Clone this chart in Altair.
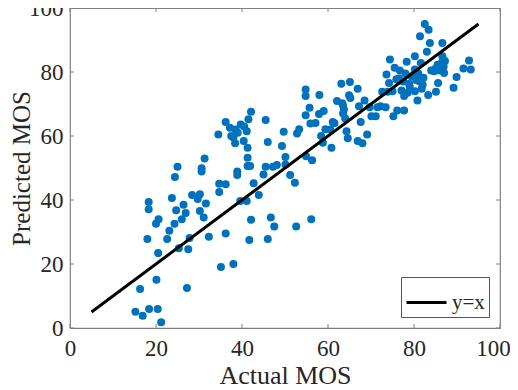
import altair as alt
import pandas as pd

actual = [15.2, 16.9, 18.4, 20.4, 21.2, 16.3, 20.1, 27.2, 20.5, 18.0, 18.3, 18.3, 20.0, 20.6, 22.6,
          23.1, 23.7, 24.4, 25.0, 24.3, 24.7, 25.3, 26.0, 26.4, 26.9, 27.5, 27.8, 28.4, 29.7, 30.2,
          30.6, 30.6, 30.2, 31.1, 31.6, 31.3, 32.3, 34.7, 34.7, 36.2, 36.2, 35.1, 38.0, 34.5, 36.2,
          37.2, 38.0, 38.4, 38.9, 38.9, 39.7, 39.6, 41.1, 40.4, 41.1, 41.3, 41.3, 41.5, 42.1, 41.3,
          41.9, 42.1, 41.7, 42.7, 43.9, 45.5, 46.0, 45.5, 45.0, 46.7, 46.0, 47.5, 47.2, 48.1, 49.3,
          49.7, 50.1, 50.1, 51.2, 52.3, 52.6, 52.8, 53.3, 54.8, 54.8, 54.8, 54.9, 55.7, 55.9, 56.3,
          56.1, 57.1, 57.9, 58.0, 58.4, 58.8, 59.0, 59.4, 60.8, 61.1, 62.1, 63.1, 63.3, 63.5, 63.7,
          64.3, 64.6, 64.9, 65.1, 65.2, 66.9, 66.9, 67.2, 67.6, 68.0, 68.5, 69.1, 69.7, 70.1, 71.1,
          71.5, 72.2, 72.6, 73.4, 73.6, 73.9, 74.4, 74.2, 75.2, 75.5, 75.9, 76.1, 76.7, 77.1, 77.7,
          77.7, 78.3, 78.9, 79.4, 80.2, 80.2, 80.2, 80.8, 81.2, 81.4, 81.6, 81.8, 82.2, 82.5, 83.0,
          83.4, 83.3, 83.7, 84.7, 85.1, 85.5, 85.6, 86.6, 86.6, 86.9, 87.0, 87.2, 89.2, 89.9, 91.5,
          92.8, 93.2, 76.5, 77.5, 78.0, 79.0, 80.5, 81.0, 82.0, 75.0, 78.5, 86.0, 86.5, 85.0, 84.0,
          63.5, 64.0, 60.5, 61.5, 39.0, 38.5, 40.5, 37.5]
predicted = [5.1, 3.8, 5.9, 5.9, 1.8, 12.2, 15.1, 12.5, 23.4, 27.8, 39.4, 37.1, 32.6, 34.0, 27.8,
             30.4, 40.6, 47.2, 50.4, 32.6, 36.8, 24.9, 34.0, 38.5, 35.9, 24.6, 28.1, 41.6, 40.3, 41.8,
             48.9, 49.9, 36.6, 34.5, 38.9, 53.0, 28.5, 42.5, 45.1, 44.9, 29.5, 19.1, 20.0, 60.5, 64.4,
             62.6, 59.5, 57.7, 48.9, 47.8, 63.6, 39.7, 39.7, 58.4, 61.5, 56.3, 53.2, 65.2, 67.6, 50.6,
             50.6, 33.8, 27.5, 45.2, 41.6, 65.0, 58.1, 50.4, 48.0, 34.5, 27.8, 31.7, 50.4, 50.9, 56.9,
             61.3, 53.4, 51.1, 47.8, 45.4, 31.7, 60.8, 62.1, 66.5, 72.5, 74.5, 53.7, 68.8, 63.9, 52.4,
             34.0, 64.1, 66.9, 72.8, 60.0, 57.9, 67.8, 62.1, 56.3, 64.4, 70.9, 76.3, 70.2, 67.0, 68.3,
             61.5, 59.3, 72.7, 76.9, 71.9, 74.8, 58.4, 69.3, 64.4, 57.7, 71.1, 60.5, 69.0, 66.2, 66.2,
             69.0, 69.3, 73.8, 69.0, 79.2, 73.8, 83.9, 76.6, 66.2, 81.3, 77.7, 68.0, 80.5, 74.2, 72.5,
             68.0, 83.2, 76.3, 78.7, 84.9, 80.8, 74.0, 71.1, 77.1, 91.2, 82.8, 74.8, 78.2, 95.0, 86.3,
             93.2, 72.8, 89.1, 80.2, 73.8, 82.3, 76.6, 89.1, 84.9, 81.7, 79.7, 83.4, 75.1, 78.4, 81.1,
             83.6, 80.8, 78.0, 77.0, 79.5, 75.5, 77.5, 79.5, 76.0, 74.0, 73.5, 80.5, 83.0, 81.0, 80.5,
             69.5, 65.5, 62.0, 64.0, 61.0, 62.0, 63.0, 60.0]

line_x = [5, 95]
line_y = [5, 95]
line_name = ["y=x", "y=x"]
tick_values = [0, 20, 40, 60, 80, 100]

W, H = 430, 320
FONT = "Liberation Serif"

pts = pd.DataFrame({"actual": actual, "predicted": predicted})
ref = pd.DataFrame({"actual": line_x, "predicted": line_y, "series": line_name})
ticks = pd.DataFrame({"t": tick_values})

xs = alt.Scale(domain=[0, 100], nice=False, zero=False)
ys = alt.Scale(domain=[0, 100], nice=False, zero=False)

common = dict(values=tick_values, ticks=False, tickSize=0, domain=False, grid=False,
              labelFlush=False, labelOverlap=False, labelBound=False,
              labelFont=FONT, labelFontSize=23, labelColor="#262626",
              titleFont=FONT, titleColor="#262626", titleFontWeight="normal")
x_axis = alt.Axis(labelPadding=9, title="Actual MOS", titlePadding=2, titleFontSize=26,
                  labelOffset={"condition": {"test": "datum.value === 100", "value": -7}, "value": 0},
                  **common)
y_axis = alt.Axis(labelPadding=7, title="Predicted MOS", titleFontSize=25,
                  titleX=-61, titleY=H / 2, titleBaseline="top", titleAngle=270,
                  titleAlign="center", **common)

scatter = alt.Chart(pts).mark_circle(size=64, color="#0072BD", opacity=1).encode(
    x=alt.X("actual:Q", scale=xs, axis=x_axis),
    y=alt.Y("predicted:Q", scale=ys, axis=y_axis),
)

line = alt.Chart(ref).mark_line(strokeWidth=3).encode(
    x=alt.X("actual:Q", scale=xs, axis=x_axis),
    y=alt.Y("predicted:Q", scale=ys, axis=y_axis),
    color=alt.Color("series:N", scale=alt.Scale(domain=["y=x"], range=["black"]),
                    legend=alt.Legend(title=None, orient="bottom-right", offset=11,
                                      symbolType="stroke", symbolSize=1600, symbolStrokeWidth=3,
                                      symbolStrokeColor="black",
                                      labelFont=FONT, labelFontSize=21, labelColor="#262626",
                                      labelOffset=4, padding=4, fillColor="white",
                                      strokeColor="#555555")),
)

tick_color = "#808080"
bottom_ticks = alt.Chart(ticks).mark_rule(color=tick_color, strokeWidth=1).encode(
    x=alt.X("t:Q", scale=xs, axis=x_axis), y=alt.value(H), y2=alt.value(H - 4))
top_ticks = alt.Chart(ticks).mark_rule(color=tick_color, strokeWidth=1).encode(
    x=alt.X("t:Q", scale=xs, axis=x_axis), y=alt.value(0), y2=alt.value(4))
left_ticks = alt.Chart(ticks).mark_rule(color=tick_color, strokeWidth=1).encode(
    y=alt.Y("t:Q", scale=ys, axis=y_axis), x=alt.value(0), x2=alt.value(4))
right_ticks = alt.Chart(ticks).mark_rule(color=tick_color, strokeWidth=1).encode(
    y=alt.Y("t:Q", scale=ys, axis=y_axis), x=alt.value(W), x2=alt.value(W - 4))

chart = alt.layer(scatter, bottom_ticks, top_ticks, left_ticks, right_ticks, line).properties(
    width=W, height=H,
    autosize=alt.AutoSizeParams(type="none"),
    padding={"left": 62, "top": 0, "right": 10, "bottom": 62},
    background="white",
).configure_view(
    stroke=tick_color, strokeWidth=1.2
).configure_axis(
    labelFont=FONT, titleFont=FONT
)

chart.save("out.html", embed_options={"renderer": "svg", "actions": False})
